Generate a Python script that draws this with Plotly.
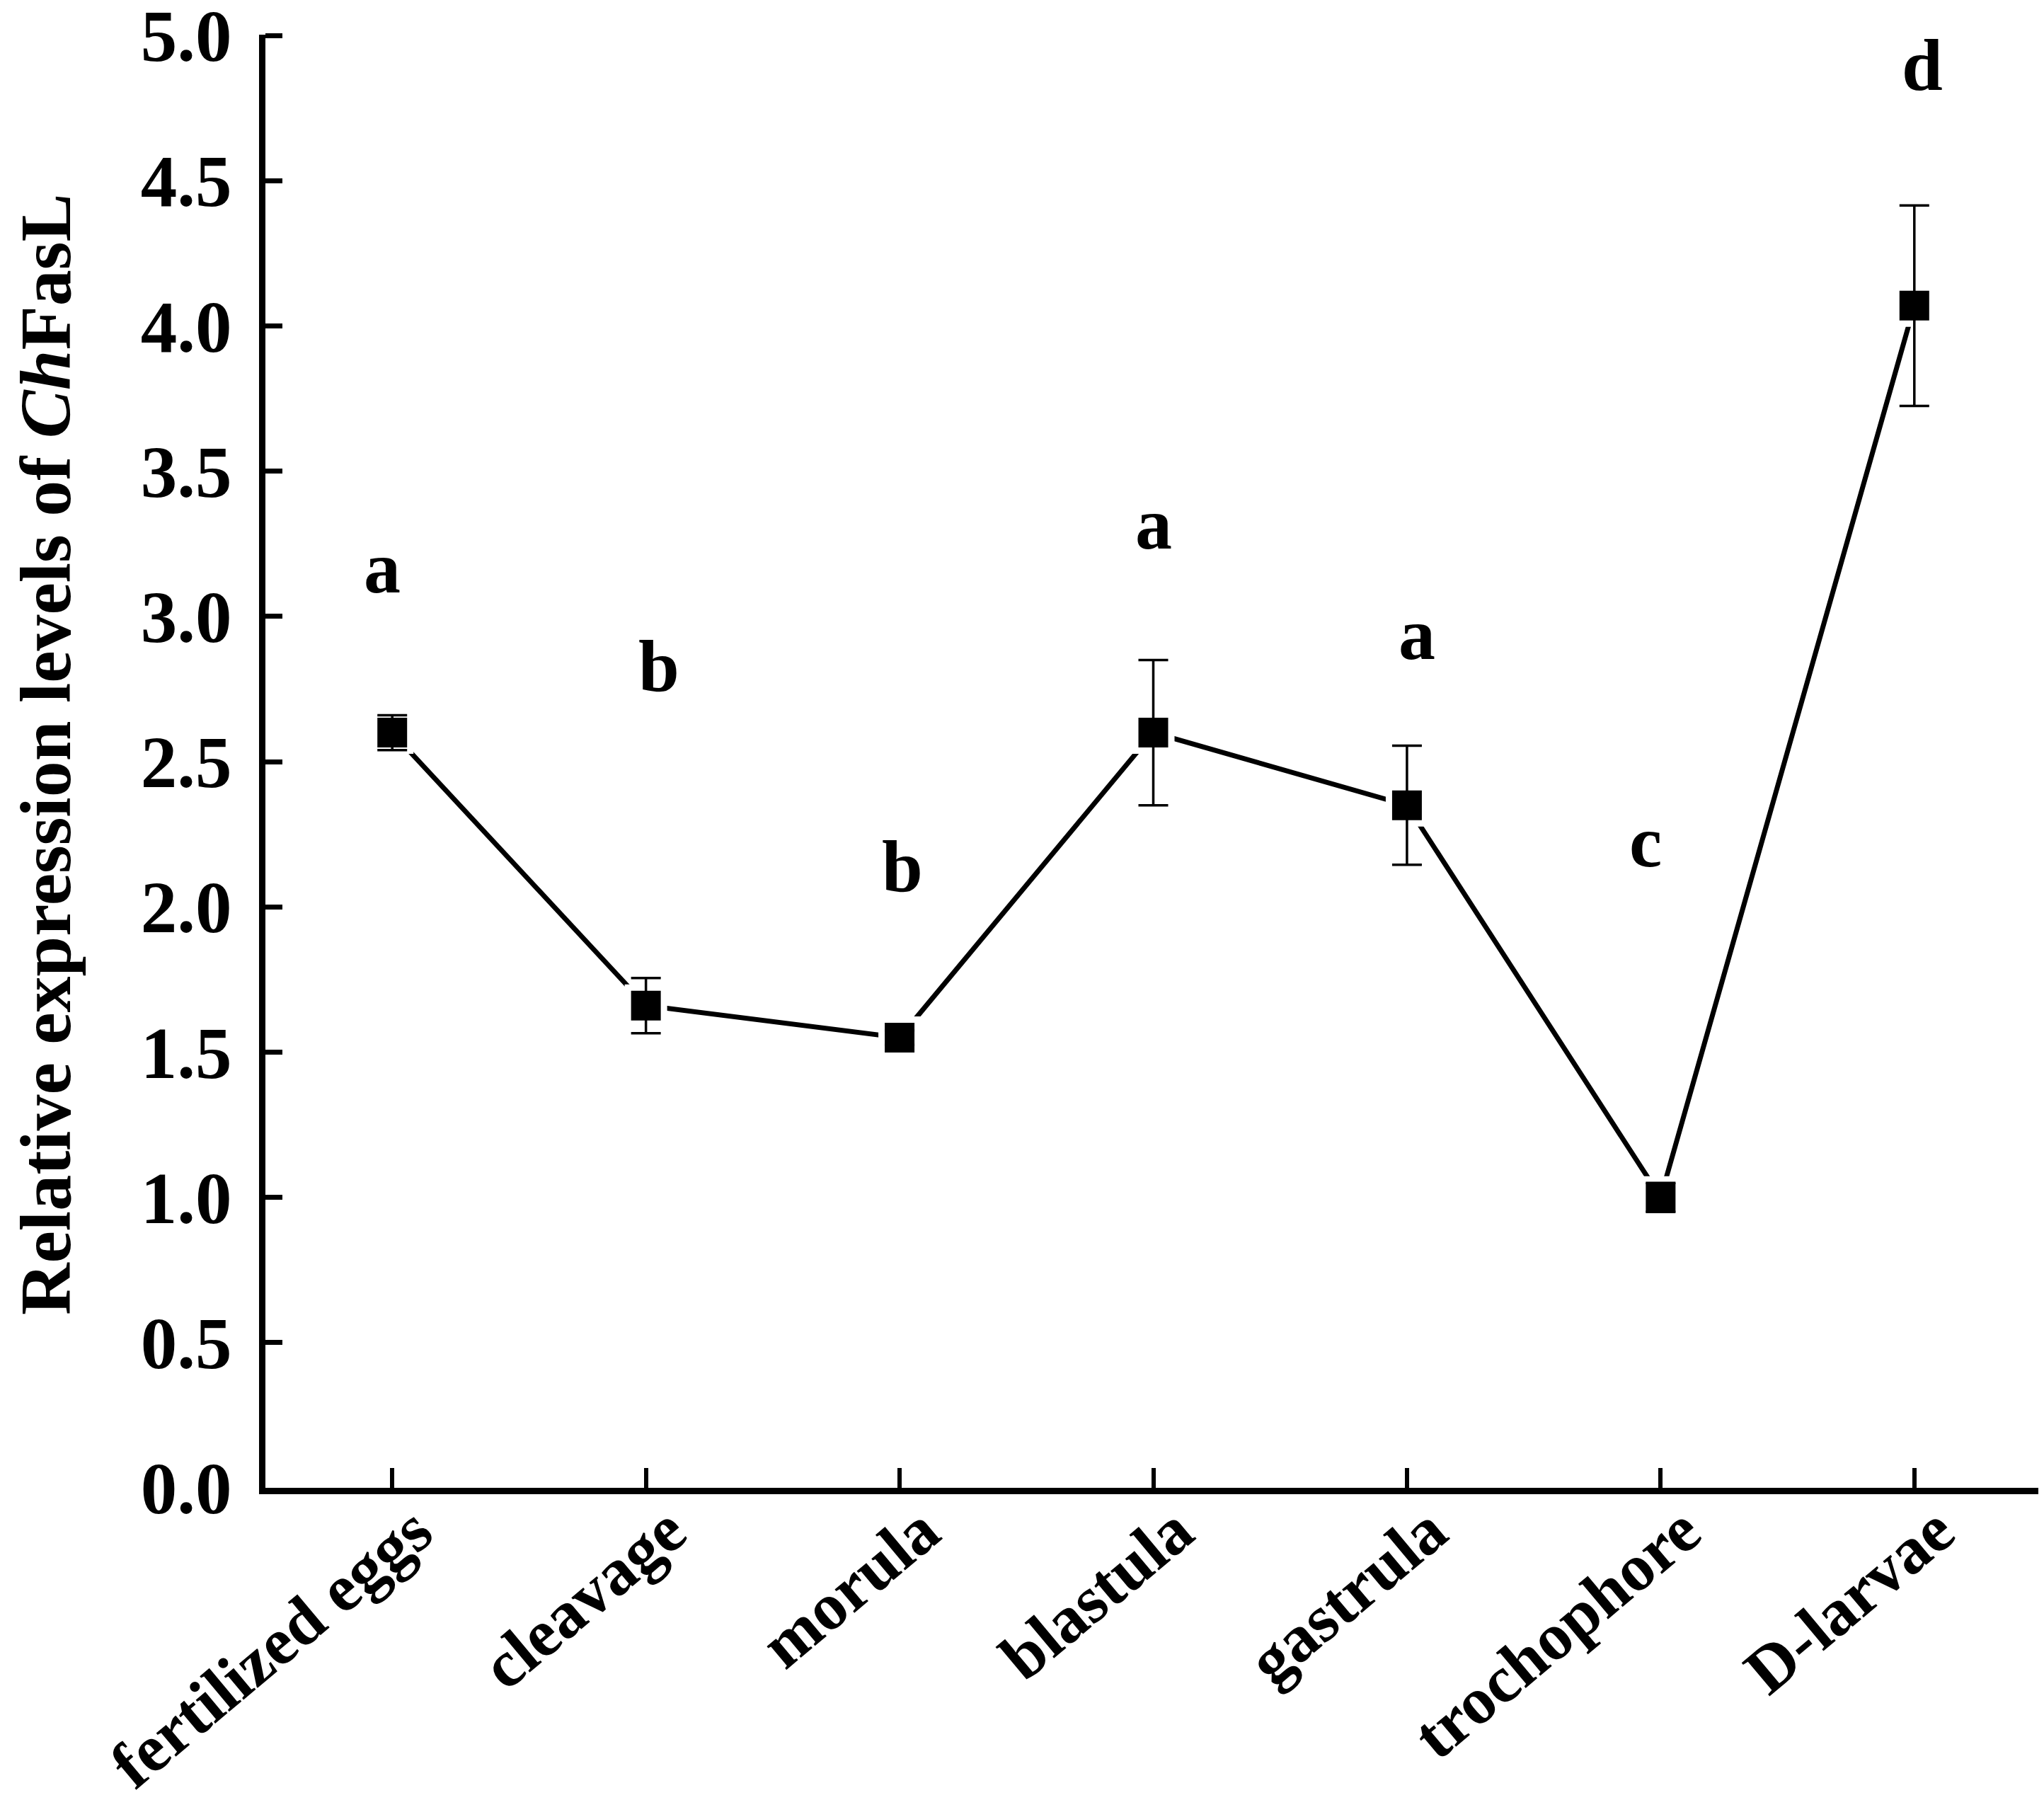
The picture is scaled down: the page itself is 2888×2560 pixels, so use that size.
import plotly.graph_objects as go

# development stages and ChFasL relative expression
stages = ["fertilized eggs", "cleavage", "morula", "blastula",
          "gastrula", "trochophore", "D-larvae"]
expression = [2.60, 1.66, 1.55, 2.60, 2.35, 1.00, 4.07]
err = [0.06, 0.095, 0.025, 0.25, 0.205, 0.05, 0.345]

# significance letters and their heights
letters = ["a", "b", "b", "a", "a", "c", "d"]
letter_y = [3.17, 2.83, 2.14, 3.32, 2.94, 2.225, 4.90]
letter_dx = [-0.04, 0.05, 0.01, 0.0, 0.04, -0.06, 0.03]

y_ticks = [0.0, 0.5, 1.0, 1.5, 2.0, 2.5, 3.0, 3.5, 4.0, 4.5, 5.0]

FONT = "Liberation Serif"
idx = list(range(len(stages)))

fig = go.Figure()

# connecting line
fig.add_trace(go.Scatter(x=idx, y=expression, mode="lines",
                         line=dict(color="black", width=7),
                         hoverinfo="skip", showlegend=False))
# white halo so the line stops short of the markers (Origin style)
fig.add_trace(go.Scatter(x=idx, y=expression, mode="markers",
                         marker=dict(symbol="square", size=60, color="white"),
                         hoverinfo="skip", showlegend=False))
# markers + error bars
fig.add_trace(go.Scatter(x=idx, y=expression, mode="markers",
                         marker=dict(symbol="square", size=42, color="black"),
                         error_y=dict(type="data", array=err, visible=True,
                                      color="black", thickness=3.5, width=21),
                         showlegend=False))

for i, (t, yv, dx) in enumerate(zip(letters, letter_y, letter_dx)):
    fig.add_annotation(x=i + dx, y=yv, text="<b>%s</b>" % t, showarrow=False,
                       font=dict(family=FONT, size=104, color="black"),
                       xanchor="center", yanchor="middle")

# y-axis title as an annotation so it can sit right at the left edge
fig.add_annotation(xref="paper", yref="paper", x=-0.124, y=0.505,
                   text="<b>Relative expression levels of <i>Ch</i>FasL</b>",
                   textangle=-90, showarrow=False,
                   font=dict(family=FONT, size=102, color="black"),
                   xanchor="center", yanchor="middle")

fig.update_layout(
    width=2888, height=2560,
    margin=dict(l=367, r=12, t=41, b=466, autoexpand=False),
    plot_bgcolor="white", paper_bgcolor="white",
    font=dict(family=FONT, color="black"),
)

fig.update_xaxes(
    range=[-0.5, 6.5],
    tickmode="array", tickvals=idx,
    ticktext=["<b>%s</b>" % s for s in stages],
    tickangle=-40,
    tickfont=dict(family=FONT, size=94, color="black"),
    ticklabelstandoff=-40, ticklabelshift=32,
    ticklabeloverflow="allow",
    ticks="inside", ticklen=28, tickwidth=6, tickcolor="black",
    showline=True, linecolor="black", linewidth=9,
    showgrid=False, zeroline=False, automargin=False,
)

fig.update_yaxes(
    range=[0, 5.003],
    tickmode="array", tickvals=y_ticks,
    ticktext=["<b>%.1f</b>" % v for v in y_ticks],
    tickfont=dict(family=FONT, size=103, color="black"),
    ticks="inside", ticklen=24, tickwidth=7, tickcolor="black",
    ticklabelstandoff=18, ticklabeloverflow="allow",
    showline=True, linecolor="black", linewidth=9,
    showgrid=False, zeroline=False, automargin=False,
)

fig.write_html("out.html")
